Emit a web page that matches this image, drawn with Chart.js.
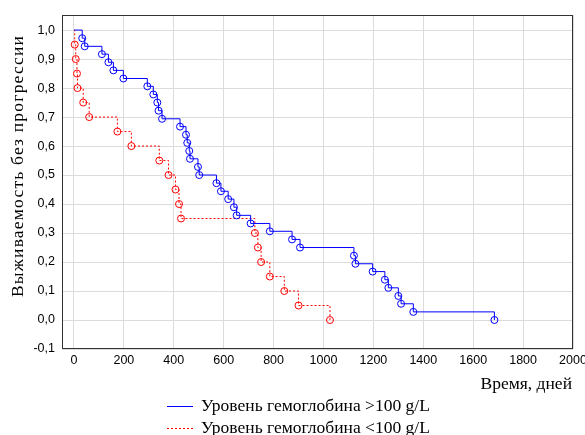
<!DOCTYPE html>
<html>
<head>
<meta charset="utf-8">
<script src="https://cdn.jsdelivr.net/npm/chart.js@4.4.0/dist/chart.umd.min.js"></script>
<style>
  html, body { margin: 0; padding: 0; background: #fff; }
</style>
</head>
<body>
<canvas id="km" width="585" height="435"></canvas>
<script>
// ===== data
const xTicks = [0, 200, 400, 600, 800, 1000, 1200, 1400, 1600, 1800, 2000];
const yTicks = [-0.1, 0, 0.1, 0.2, 0.3, 0.4, 0.5, 0.6, 0.7, 0.8, 0.9, 1.0];

const seriesLabels = ['Уровень гемоглобина >100 g/L', 'Уровень гемоглобина <100 g/L'];
const xTitle = 'Время, дней';
const yTitle = 'Выживаемость без прогрессии';

// гемоглобин > 100
const hiDays = [0, 33, 43, 112, 138, 158, 198, 294, 318, 334, 339, 353, 425, 449, 454, 462, 465,
                497, 502, 571, 589, 618, 641, 652, 708, 785, 874, 906, 1122, 1128, 1197, 1246,
                1260, 1300, 1311, 1360, 1685];
const hiSurv = [1, 0.972, 0.944, 0.917, 0.889, 0.861, 0.833, 0.806, 0.778, 0.75, 0.722, 0.694,
                0.667, 0.639, 0.611, 0.583, 0.556, 0.528, 0.5, 0.472, 0.444, 0.417, 0.389, 0.361,
                0.333, 0.306, 0.278, 0.25, 0.222, 0.194, 0.167, 0.139, 0.111, 0.083, 0.056, 0.028, 0];

// гемоглобин < 100
const loDays = [0, 3, 7, 12, 14, 37, 61, 174, 230, 342, 379, 407, 421, 429, 725, 737, 750, 785, 843, 900, 1026];
const loSurv = [1, 0.95, 0.9, 0.85, 0.8, 0.75, 0.7, 0.65, 0.6, 0.55, 0.5, 0.45, 0.4, 0.35, 0.3,
                0.25, 0.2, 0.15, 0.1, 0.05, 0];

const blue = '#0000ff';
const red = '#ff0000';
const sans = '"Liberation Sans", Arial, sans-serif';
const serif = '"Liberation Serif", "Times New Roman", serif';

const pts = (xs, ys) => xs.map((x, i) => ({ x, y: ys[i] }));
const noFirst = (ctx) => ctx.dataIndex === 0 ? 0 : 3.5;
const comma = (v) => (Math.round(v * 10) / 10).toFixed(1).replace('.', ',');

// рамка, подписи осей и легенда
const decor = {
  id: 'decor',
  afterDraw(chart) {
    const { ctx, chartArea: a } = chart;
    ctx.save();
    ctx.strokeStyle = '#333';
    ctx.lineWidth = 1;
    ctx.strokeRect(a.left + 0.5, a.top + 0.5, a.right - a.left - 1, a.bottom - a.top - 1);

    ctx.fillStyle = '#000';
    ctx.font = '17.5px ' + serif;
    ctx.textBaseline = 'middle';

    ctx.save();
    ctx.translate(18, 166);
    ctx.rotate(-Math.PI / 2);
    ctx.textAlign = 'center';
    ctx.letterSpacing = '1.2px';
    ctx.fillText(yTitle, 0, 0);
    ctx.restore();

    ctx.textAlign = 'right';
    ctx.fillText(xTitle, 572, 384);

    chart.data.datasets.forEach((ds, i) => {
      const y = 406 + i * 22;
      ctx.beginPath();
      ctx.strokeStyle = ds.borderColor;
      ctx.setLineDash(ds.borderDash || []);
      ctx.moveTo(167, y + 0.5);
      ctx.lineTo(193, y + 0.5);
      ctx.stroke();
      ctx.setLineDash([]);
      ctx.textAlign = 'left';
      ctx.fillText(ds.label, 201, y);
    });
    ctx.restore();
  }
};

new Chart(document.getElementById('km').getContext('2d'), {
  type: 'line',
  data: {
    datasets: [
      {
        label: seriesLabels[0],
        data: pts(hiDays, hiSurv),
        borderColor: blue,
        borderWidth: 1,
        stepped: true,
        pointStyle: 'circle',
        pointRadius: noFirst,
        pointBorderColor: blue,
        pointBackgroundColor: 'transparent',
        pointBorderWidth: 1
      },
      {
        label: seriesLabels[1],
        data: pts(loDays, loSurv),
        borderColor: red,
        borderWidth: 1,
        borderDash: [2, 2],
        stepped: true,
        pointStyle: 'circle',
        pointRadius: noFirst,
        pointBorderColor: red,
        pointBackgroundColor: 'transparent',
        pointBorderWidth: 1
      }
    ]
  },
  options: {
    responsive: false,
    animation: false,
    layout: { padding: { top: 15, right: 12, left: 0, bottom: 0 } },
    plugins: { legend: { display: false }, tooltip: { enabled: false } },
    scales: {
      x: {
        type: 'linear',
        min: -48,
        max: 2000,
        afterBuildTicks: (s) => { s.ticks = xTicks.map(v => ({ value: v })); },
        afterFit: (s) => { s.height = 86; s.paddingLeft = 0; s.paddingRight = 0; },
        grid: { color: '#dcdcdc', drawTicks: false },
        border: { display: false },
        ticks: { color: '#000', padding: 4, maxRotation: 0, font: { family: sans, size: 12.5 },
                 callback: (v) => String(v) }
      },
      y: {
        min: -0.1,
        max: 1.052,
        afterBuildTicks: (s) => { s.ticks = yTicks.map(v => ({ value: v })); },
        afterFit: (s) => { s.width = 62; s.paddingTop = 0; s.paddingBottom = 0; },
        grid: { color: '#dcdcdc', drawTicks: false },
        border: { display: false },
        ticks: { color: '#000', padding: 7, font: { family: sans, size: 12.5 }, callback: comma }
      }
    }
  },
  plugins: [decor]
});
</script>
</body>
</html>
